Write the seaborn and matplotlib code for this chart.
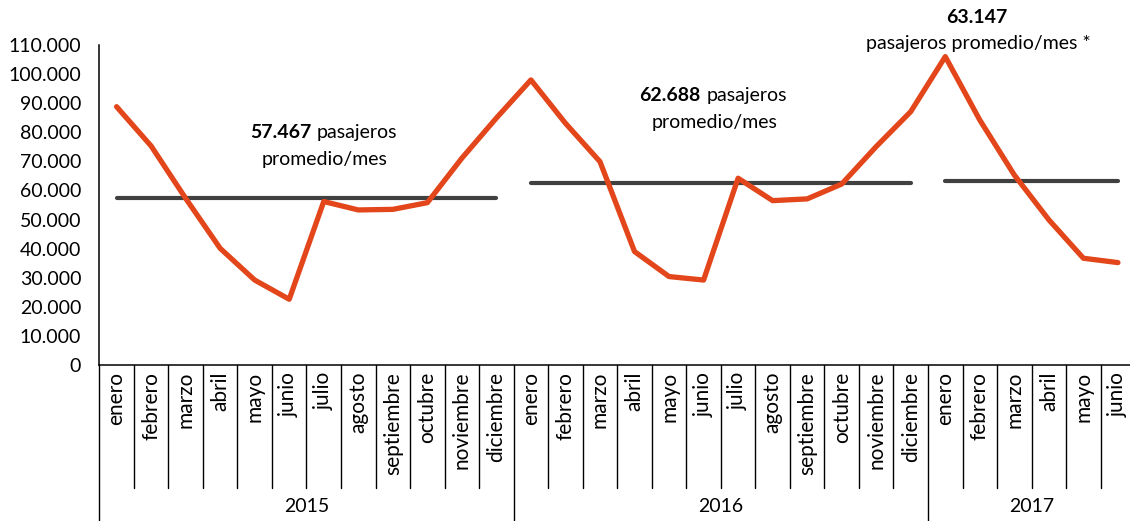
import matplotlib
matplotlib.use("Agg")
import matplotlib.pyplot as plt
import seaborn as sns
import pandas as pd
import numpy as np

# ---- data ----
meses = ["enero", "febrero", "marzo", "abril", "mayo", "junio", "julio", "agosto",
         "septiembre", "octubre", "noviembre", "diciembre"]
anios = ["2015", "2016", "2017"]
meses_por_anio = [12, 12, 6]
pasajeros = [88800, 75300, 57300, 40100, 29200, 22600, 56200, 53300, 53500, 55800, 71100, 84900,
             98000, 83100, 69900, 39000, 30400, 29200, 64200, 56500, 57100, 62200, 75100, 87100,
             106000, 84200, 65300, 49900, 36700, 35200]
promedios = [57467, 62688, 63147]
etiquetas_promedio = ["57.467", "62.688", "63.147"]

# ---- frame ----
etiquetas_mes = []
anio_col = []
for a, n in zip(anios, meses_por_anio):
    etiquetas_mes += meses[:n]
    anio_col += [a] * n
df = pd.DataFrame({"pos": np.arange(len(pasajeros)), "mes": etiquetas_mes,
                   "anio": anio_col, "pasajeros": pasajeros})
prom_map = dict(zip(anios, promedios))
df["promedio"] = df["anio"].map(prom_map)

sns.set_style("white")
plt.rcParams["font.family"] = ["Lato", "DejaVu Sans"]
plt.rcParams["text.color"] = "black"

W, H = 1130, 521
fig = plt.figure(figsize=(W / 100, H / 100), dpi=100)
ax_left, ax_right, ax_top, ax_bottom = 99.3, 1135.2, 45, 365
ax = fig.add_axes([ax_left / W, 1 - ax_bottom / H, (ax_right - ax_left) / W, (ax_bottom - ax_top) / H])

ROJO = "#E2461A"
GRIS = "#404040"

for a in anios:
    sub = df[df["anio"] == a]
    sns.lineplot(data=sub, x="pos", y="promedio", ax=ax, color=GRIS, linewidth=3.0,
                 solid_capstyle="round", legend=False)
sns.lineplot(data=df, x="pos", y="pasajeros", ax=ax, color=ROJO, linewidth=3.8,
             solid_joinstyle="round", solid_capstyle="round", legend=False)

n = len(pasajeros)
ax.set_xlim(-0.5, n - 0.5)
ax.set_ylim(0, 110000)
ax.set_yticks(np.arange(0, 110001, 10000))
ax.set_yticklabels(["0" if v == 0 else f"{v:,.0f}".replace(",", ".") for v in range(0, 110001, 10000)])
ax.set_xticks(df["pos"])
ax.set_xticklabels(df["mes"], rotation=90, va="top", ha="center")
ax.set_xlabel("")
ax.set_ylabel("")

for s in ["top", "right"]:
    ax.spines[s].set_visible(False)
for s in ["left", "bottom"]:
    ax.spines[s].set_color("black")
    ax.spines[s].set_linewidth(1.1)

FS = 14
ax.tick_params(axis="y", direction="out", length=3, width=1.1, color="black",
               labelsize=FS, pad=10, labelcolor="black")
ax.tick_params(axis="x", direction="in", length=3, width=1.1, color="black",
               labelsize=15, pad=5, labelcolor="black")

# multi-level axis separators
tr = ax.get_xaxis_transform()
sep_y = -(488 - ax_bottom) / (ax_bottom - ax_top)
bound = np.arange(-0.5, n, 1.0)
year_bounds = [-0.5] + list(np.cumsum(meses_por_anio) - 0.5)
for b in bound:
    if b in year_bounds:
        continue
    ax.plot([b, b], [0, sep_y], transform=tr, color="black", lw=1.0, clip_on=False)
for b in year_bounds:
    ax.plot([b, b], [0, -0.6], transform=tr, color="black", lw=1.0, clip_on=False)

year_y = -(506 - ax_bottom) / (ax_bottom - ax_top)
start = 0
for a, m in zip(anios, meses_por_anio):
    ax.text(start - 0.5 + m / 2, year_y, a, transform=tr, ha="center", va="center",
            fontsize=FS, color="black")
    start += m

# annotations
fs = FS


def etiqueta(x_num, x_pas, y1, x2, y2, num):
    ax.text(x_num, y1, num, ha="right", va="baseline", fontsize=fs, fontweight="bold")
    ax.text(x_pas, y1, "pasajeros", ha="left", va="baseline", fontsize=fs)
    ax.text(x2, y2, "promedio/mes", ha="center", va="center", fontsize=fs)


etiqueta(5.63, 5.80, 78030, 6.02, 70470, etiquetas_promedio[0])
etiqueta(16.92, 17.09, 90750, 17.33, 83290, etiquetas_promedio[1])

ax.text(24.91, 119530, etiquetas_promedio[2], ha="center", va="center", fontsize=fs,
        fontweight="bold", clip_on=False)
ax.text(24.95, 110590, "pasajeros promedio/mes *", ha="center", va="center", fontsize=fs,
        clip_on=False)

fig.savefig("out.png", dpi=100)
